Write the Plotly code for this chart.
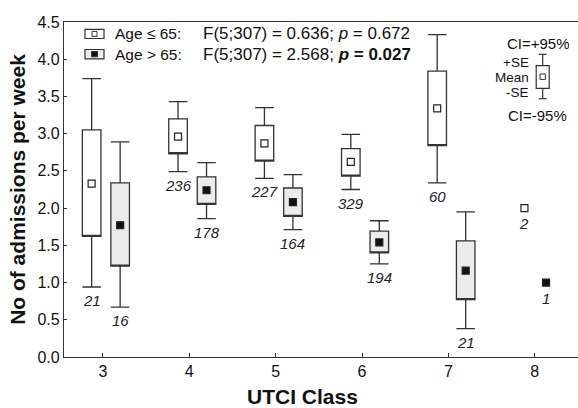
import plotly.graph_objects as go

# ---------------- data ----------------
classes = [3, 4, 5, 6, 7, 8]

# Age <= 65
young_ci_hi = [3.74, 3.43, 3.35, 2.99, 4.33, None]
young_se_hi = [3.05, 3.20, 3.11, 2.80, 3.84, None]
young_mean = [2.33, 2.96, 2.87, 2.62, 3.34, 2.00]
young_se_lo = [1.62, 2.73, 2.63, 2.43, 2.84, None]
young_ci_lo = [0.94, 2.49, 2.40, 2.25, 2.34, None]
young_n = [21, 236, 227, 329, 60, 2]

# Age > 65
old_ci_hi = [2.89, 2.61, 2.45, 1.83, 1.95, None]
old_se_hi = [2.34, 2.42, 2.27, 1.69, 1.56, None]
old_mean = [1.77, 2.24, 2.08, 1.54, 1.16, 1.00]
old_se_lo = [1.22, 2.05, 1.89, 1.40, 0.77, None]
old_ci_lo = [0.67, 1.86, 1.71, 1.25, 0.38, None]
old_n = [16, 178, 164, 194, 21, 1]

legend_young = "Age \u2264 65:"
legend_old = "Age > 65:"
stat_young = "F(5;307) = 0.636; <i>p</i> = 0.672"
stat_old = "F(5;307) = 2.568; <b><i>p</i> = 0.027</b>"

# ---------------- styling ----------------
FONT = "Liberation Sans, Arial, sans-serif"
LINE = "#333333"
GREY = "#ebebeb"
OFF_BOX = {"young": -0.13, "old": 0.20}
OFF_SINGLE = {"young": -0.12, "old": 0.13}
BOX_W = 0.215

W, H = 578, 408
ML, MR, MT, MB = 64, 0, 22, 51
PW, PH = W - ML - MR, H - MT - MB


def px(x):
    return (x - ML) / PW


def py(y):
    return (H - MB - y) / PH


fig = go.Figure()
annotations = []
NFONT = dict(family=FONT, size=15, color="#222")


def add_group(key, ci_hi, se_hi, mean, se_lo, ci_lo, n, fill, mfill):
    bx, q1, q3, lo, hi = [], [], [], [], []
    mx = []
    for i, c in enumerate(classes):
        if ci_hi[i] is not None:
            pos = c + OFF_BOX[key]
            bx.append(pos)
            q1.append(se_lo[i])
            q3.append(se_hi[i])
            lo.append(ci_lo[i])
            hi.append(ci_hi[i])
            mx.append(pos)
            annotations.append(dict(
                x=pos, y=ci_lo[i], xref="x", yref="y", text=f"<i>{n[i]}</i>",
                showarrow=False, yanchor="top", xanchor="center", yshift=-3,
                font=NFONT))
        else:
            pos = c + OFF_SINGLE[key]
            mx.append(pos)
            annotations.append(dict(
                x=pos, y=mean[i], xref="x", yref="y", text=f"<i>{n[i]}</i>",
                showarrow=False, yanchor="top", xanchor="center", yshift=-5,
                font=NFONT))
    fig.add_trace(go.Box(
        x=bx, q1=q1, median=q1, q3=q3, lowerfence=lo, upperfence=hi,
        width=BOX_W, whiskerwidth=1, fillcolor=fill,
        line=dict(color=LINE, width=1.3), boxpoints=False,
        showlegend=False, hoverinfo="skip"))
    fig.add_trace(go.Scatter(
        x=mx, y=mean, mode="markers",
        marker=dict(symbol="square", size=7, color=mfill,
                    line=dict(color="#222", width=1.2)),
        showlegend=False, hoverinfo="skip"))


add_group("young", young_ci_hi, young_se_hi, young_mean, young_se_lo,
          young_ci_lo, young_n, "white", "white")
add_group("old", old_ci_hi, old_se_hi, old_mean, old_se_lo,
          old_ci_lo, old_n, GREY, "#111")

shapes = []


def rect(x0, y0, x1, y1, fill, lw=1.2):
    shapes.append(dict(type="rect", xref="paper", yref="paper",
                       x0=px(x0), x1=px(x1), y0=py(y1), y1=py(y0),
                       line=dict(color=LINE, width=lw), fillcolor=fill, layer="above"))


def line(x0, y0, x1, y1, lw=1.2):
    shapes.append(dict(type="line", xref="paper", yref="paper",
                       x0=px(x0), x1=px(x1), y0=py(y0), y1=py(y1),
                       line=dict(color=LINE, width=lw), layer="above"))


# top legend
rect(85, 29.3, 104, 38.5, "white")
rect(92, 31.4, 97, 36.4, "white", 1)
rect(85, 49.5, 104, 58.8, GREY)
rect(91.5, 51.5, 97.5, 56.8, "#111", 1)

for ty, lab, st in [(33.7, legend_young, stat_young), (54.3, legend_old, stat_old)]:
    annotations.append(dict(x=px(113), y=py(ty), xref="paper", yref="paper",
                            text=lab, showarrow=False, xanchor="left", yanchor="middle",
                            font=dict(family=FONT, size=15.5, color="#111")))
    annotations.append(dict(x=px(201), y=py(ty), xref="paper", yref="paper",
                            text=st, showarrow=False, xanchor="left", yanchor="middle",
                            font=dict(family=FONT, size=17, color="#111")))

# right key
kx = 542.7
line(kx, 54.3, kx, 65.7)
line(kx, 88.3, kx, 98.7)
line(kx - 4, 54.3, kx + 4, 54.3)
line(kx - 4, 98.7, kx + 4, 98.7)
rect(kx - 6.5, 65.7, kx + 6.5, 88.3, "white")
rect(kx - 2.7, 74, kx + 2.7, 79.4, "white", 1)

for tx, ty, t, anc, fs in [(538, 43.3, "CI=+95%", "center", 15),
                           (530, 62.3, "+SE", "right", 13.5),
                           (530, 76.9, "Mean", "right", 13.5),
                           (530, 92.0, "-SE", "right", 13.5),
                           (537, 115, "CI=-95%", "center", 15)]:
    annotations.append(dict(x=px(tx), y=py(ty), xref="paper", yref="paper", text=t,
                            showarrow=False, xanchor=anc, yanchor="middle",
                            font=dict(family=FONT, size=fs, color="#111"),
                            height=14, valign="middle", borderpad=0))

# x axis title
annotations.append(dict(x=px(302), y=py(396.5), xref="paper", yref="paper",
                        text="<b>UTCI Class</b>",
                        showarrow=False, xanchor="center", yanchor="middle",
                        font=dict(family=FONT, size=21, color="#111")))

fig.update_layout(
    width=W, height=H, autosize=False,
    margin=dict(l=ML, r=MR, t=MT, b=MB, pad=0),
    paper_bgcolor="white", plot_bgcolor="white",
    boxmode="overlay",
    showlegend=False,
    shapes=shapes, annotations=annotations,
    font=dict(family=FONT, color="#111"),
)
fig.update_xaxes(range=[2.55, 8.5], tickvals=classes, ticktext=[str(c) for c in classes],
                 showline=True, linecolor=LINE, linewidth=1.3, mirror=True,
                 ticks="inside", ticklen=4, tickcolor=LINE, showgrid=False,
                 zeroline=False, tickfont=dict(family=FONT, size=16, color="#111"))
fig.update_yaxes(range=[0, 4.5], tickvals=[0, 0.5, 1, 1.5, 2, 2.5, 3, 3.5, 4, 4.5],
                 ticktext=["0.0", "0.5", "1.0", "1.5", "2.0", "2.5", "3.0", "3.5", "4.0", "4.5"],
                 showline=True, linecolor=LINE, linewidth=1.3,
                 ticks="inside", ticklen=3, tickcolor=LINE, showgrid=False,
                 zeroline=False, tickfont=dict(family=FONT, size=16, color="#111"),
                 title=dict(text="<b>No of admissions per week</b>", standoff=6,
                            font=dict(family=FONT, size=21, color="#111")))

fig.write_html("out.html")
